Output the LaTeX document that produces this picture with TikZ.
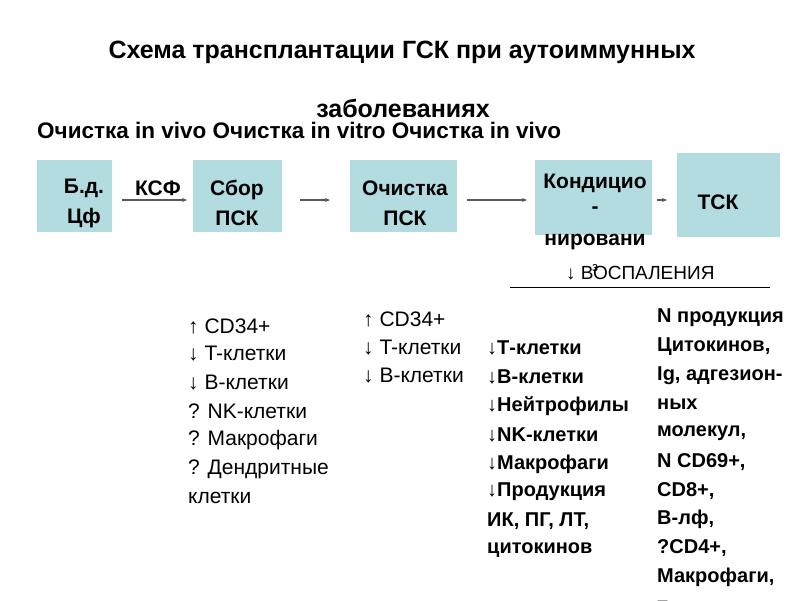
\documentclass[tikz,border=0pt]{standalone}
\usepackage{fontspec}
\setmainfont{Liberation Sans}
\usetikzlibrary{arrows.meta}
\definecolor{boxc}{RGB}{178,220,224}
\begin{document}
\begin{tikzpicture}[x=1pt,y=-1pt,
  bx/.style={fill=boxc,inner sep=0},
  t/.style={font=\fontsize{21}{30}\selectfont\bfseries,align=center,inner sep=0},
  l/.style={font=\fontsize{21}{24}\selectfont,anchor=west,inner sep=0},
  lb/.style={font=\fontsize{20}{24}\selectfont\bfseries,anchor=west,inner sep=0},
  ar/.style={draw=black!65,line width=1.2pt,-{Stealth[length=5pt,width=4pt]}}]
\clip (0,0) rectangle (800,600);
\fill[white] (0,0) rectangle (800,600);
\node[font=\fontsize{25}{28}\selectfont\bfseries] (ti1) at (402,52) {Схема трансплантации ГСК при аутоиммунных};
\node[font=\fontsize{25}{28}\selectfont\bfseries] (ti2) at (403,108) {заболеваниях};
\node[font=\fontsize{22.5}{26}\selectfont\bfseries,anchor=west,inner sep=0] (sub) at (37,130) {Очистка in vivo Очистка in vitro Очистка in vivo};
\path[bx] (37,160) rectangle (112,232);
\path[bx] (193,160) rectangle (282,232);
\path[bx] (350,160) rectangle (457,232);
\path[bx] (535,160) rectangle (652,235);
\path[bx] (677,153) rectangle (780,237);
\node[t] (n1) at (84,203) {Б.д.\\Цф};
\node[t] (ksf) at (158,188) {КСФ};
\node[t] (n2) at (237,203) {Сбор\\ПСК};
\node[t] (n3) at (405,203) {Очистка\\ПСК};
\node[t] (n4a) at (595,183) {Кондицио};
\node[t] (n4b) at (595,210) {-};
\node[t] (n4c) at (595,242) {нировани};
\node[t] (n5) at (718,202) {ТСК};
\coordinate (a1s) at (122,200); \coordinate (a1e) at (187,200);
\coordinate (a2s) at (300,200); \coordinate (a2e) at (330,200);
\coordinate (a3s) at (467,200); \coordinate (a3e) at (527,200);
\coordinate (a4s) at (657,200); \coordinate (a4e) at (667,200);
\draw[ar] (a1s) -- (a1e);
\draw[ar] (a2s) -- (a2e);
\draw[ar] (a3s) -- (a3e);
\draw[ar] (a4s) -- (a4e);
\node[l,font=\fontsize{19}{22}\selectfont] (vos) at (566,273) {↓ ВОСПАЛЕНИЯ};
\node[l,font=\fontsize{13}{14}\selectfont] (z) at (592,268) {з};
\coordinate (ls) at (510,287); \coordinate (le) at (770,287);
\draw[line width=0.8pt] (ls) -- (le);
\node[l] (c1a) at (188,326) {↑ CD34+};
\node[l] (c1b) at (188,354) {↓ T-клетки};
\node[l] (c1c) at (188,383) {↓ В-клетки};
\node[l] (c1d) at (188,411) {? NK-клетки};
\node[l] (c1e) at (188,440) {? Макрофаги};
\node[l] (c1f) at (188,469) {? Дендритные};
\node[l] (c1g) at (188,498) {клетки};
\node[l] (c2a) at (363,319) {↑ CD34+};
\node[l] (c2b) at (363,348) {↓ T-клетки};
\node[l] (c2c) at (363,376) {↓ В-клетки};
\node[lb] (c3a) at (487,348) {↓Т-клетки};
\node[lb] (c3b) at (487,377) {↓В-клетки};
\node[lb] (c3c) at (487,406) {↓Нейтрофилы};
\node[lb] (c3d) at (487,435) {↓NK-клетки};
\node[lb] (c3e) at (487,464) {↓Макрофаги};
\node[lb] (c3f) at (487,492) {↓Продукция};
\node[lb] (c3g) at (487,521) {ИК, ПГ, ЛТ,};
\node[lb] (c3h) at (487,550) {цитокинов};
\node[lb] (c4a) at (657,318) {N продукция};
\node[lb] (c4b) at (657,347) {Цитокинов,};
\node[lb] (c4c) at (657,376) {Ig, адгезион-};
\node[lb] (c4d) at (657,404) {ных};
\node[lb] (c4e) at (657,433) {молекул,};
\node[lb] (c4f) at (657,462) {N CD69+,};
\node[lb] (c4g) at (657,491) {CD8+,};
\node[lb] (c4h) at (657,519) {В-лф,};
\node[lb] (c4i) at (657,548) {?CD4+,};
\node[lb] (c4j) at (657,577) {Макрофаги,};
\node[lb] (c4k) at (657,604) {–};
\end{tikzpicture}
\end{document}
